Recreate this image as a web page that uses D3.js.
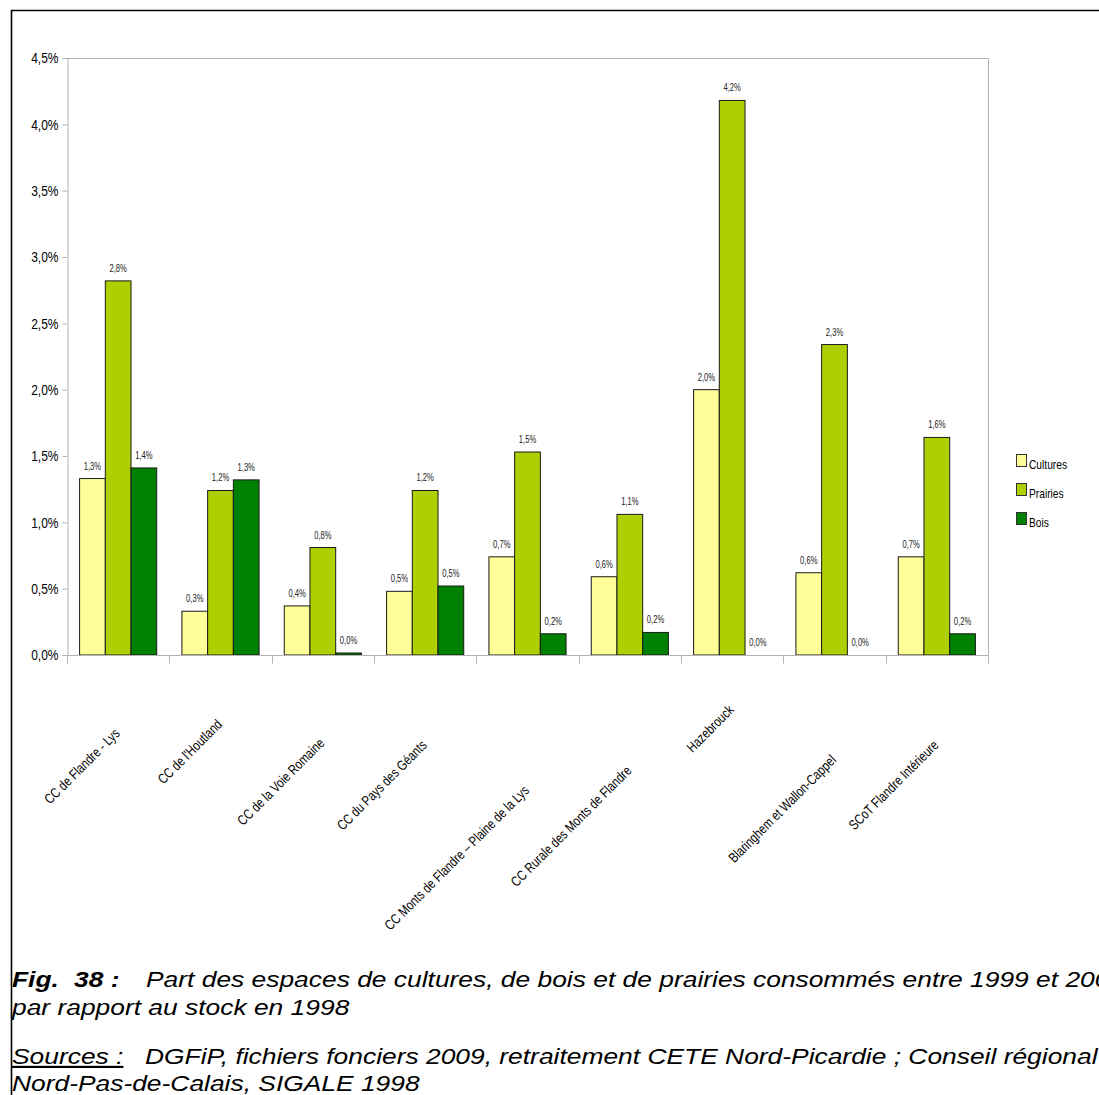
<!DOCTYPE html>
<html>
<head>
<meta charset="utf-8">
<script src="https://cdn.jsdelivr.net/npm/d3@7"></script>
<style>
  html, body { margin: 0; padding: 0; background: #fff; }
  svg { display: block; }
</style>
</head>
<body>
<svg id="chart" width="1099" height="1095"></svg>
<script>
// ---- Data ----
const categories = [
  "CC de Flandre - Lys",
  "CC de l'Houtland",
  "CC de la Voie Romaine",
  "CC du Pays des Géants",
  "CC Monts de Flandre – Plaine de la Lys",
  "CC Rurale des Monts de Flandre",
  "Hazebrouck",
  "Blaringhem et Wallon-Cappel",
  "SCoT Flandre Intérieure"
];
const seriesNames = ["Cultures", "Prairies", "Bois"];
const cultures = [1.33, 0.33, 0.37, 0.48, 0.74, 0.59, 2.00, 0.62, 0.74];
const prairies = [2.82, 1.24, 0.81, 1.24, 1.53, 1.06, 4.18, 2.34, 1.64];
const bois     = [1.41, 1.32, 0.015, 0.52, 0.16, 0.17, 0, 0, 0.16];
const yTicks = [0, 0.5, 1, 1.5, 2, 2.5, 3, 3.5, 4, 4.5];
const seriesColors = ["#ffff99", "#afd000", "#008000"];
const captionFig = "Fig.";
const captionNum = "38 :";
const captionLine1 = "Part des espaces de cultures, de bois et de prairies consommés entre 1999 et 2009";
const captionLine2 = "par rapport au stock en 1998";
const sourcesLabel = "Sources :";
const sourcesLine1 = "DGFiP, fichiers fonciers 2009, retraitement CETE Nord-Picardie ; Conseil régional";
const sourcesLine2 = "Nord-Pas-de-Calais, SIGALE 1998";

const seriesValues = [cultures, prairies, bois];

// ---- Layout ----
const svg = d3.select("#chart");
const plot = { left: 67, right: 988, top: 58, bottom: 655 };
const sans = "'Liberation Sans', Arial, sans-serif";
const NARROW = 0.8;

// emulate a narrow font by compressing glyphs horizontally
function condense(sel, factor) {
  sel.each(function () {
    const L = this.getComputedTextLength();
    d3.select(this).attr("textLength", L * factor).attr("lengthAdjust", "spacingAndGlyphs");
  });
}

const fr = d3.formatLocale({ decimal: ",", thousands: " ", grouping: [3], currency: ["", " €"] });
const fmt = v => fr.format(".1f")(v) + "%";

svg.append("rect").attr("width", 1099).attr("height", 1095).attr("fill", "#fff");

// outer frame (top and left visible)
svg.append("path")
  .attr("d", "M11.5,1095 V10.5 H1099")
  .attr("fill", "none").attr("stroke", "#000").attr("stroke-width", 1.6);

const y = d3.scaleLinear().domain([0, 4.5]).range([plot.bottom, plot.top]);
const x0 = d3.scaleBand().domain(categories).range([plot.left, plot.right]).paddingInner(0).paddingOuter(0);
const x1 = d3.scaleBand().domain(seriesNames).range([0, x0.bandwidth()]).paddingInner(0).paddingOuter(0.49);

// plot area border (top & right)
svg.append("path")
  .attr("d", `M${plot.left},${plot.top + 0.5} H${plot.right + 0.5} V${plot.bottom}`)
  .attr("fill", "none").attr("stroke", "#b3b3b3").attr("stroke-width", 1);

// Y axis
const yAxis = svg.append("g").attr("transform", `translate(${plot.left + 0.5},0)`)
  .call(d3.axisLeft(y).tickValues(yTicks).tickFormat(fmt).tickSize(5).tickPadding(4));
yAxis.select(".domain").attr("stroke", "#b3b3b3");
yAxis.selectAll(".tick line").attr("stroke", "#b3b3b3");
yAxis.selectAll(".tick text").attr("font-family", sans).attr("font-size", 15).attr("fill", "#000");
condense(yAxis.selectAll(".tick text"), NARROW);

// bars
const groups = svg.append("g").selectAll("g")
  .data(categories)
  .join("g")
  .attr("transform", d => `translate(${x0(d)},0)`);

groups.each(function (cat, ci) {
  const g = d3.select(this);
  seriesNames.forEach((s, si) => {
    const v = seriesValues[si][ci];
    const h = plot.bottom - y(v);
    if (h > 0) {
      g.append("rect")
        .attr("x", x1(s)).attr("y", y(v))
        .attr("width", x1.bandwidth()).attr("height", h)
        .attr("fill", seriesColors[si])
        .attr("stroke", "#1a1a1a").attr("stroke-width", 1);
    }
    g.append("text").attr("class", "vlab")
      .attr("x", x1(s) + x1.bandwidth() / 2)
      .attr("y", y(v) - 9)
      .attr("text-anchor", "middle")
      .attr("font-family", sans).attr("font-size", 10)
      .attr("fill", "#222")
      .text(fmt(v));
  });
});
condense(svg.selectAll("text.vlab"), 0.76);

// X axis
const xAxis = svg.append("g").attr("transform", `translate(0,${plot.bottom + 0.5})`);
xAxis.append("line").attr("x1", plot.left).attr("x2", plot.right + 0.5).attr("stroke", "#b3b3b3");
const boundaries = categories.map(c => x0(c)).concat([plot.right]);
xAxis.selectAll("line.tk").data(boundaries).join("line").attr("class", "tk")
  .attr("x1", d => Math.round(d) + 0.5).attr("x2", d => Math.round(d) + 0.5)
  .attr("y1", 0).attr("y2", 8).attr("stroke", "#b3b3b3");

// rotated category labels
const labels = svg.append("g").selectAll("text")
  .data(categories)
  .join("text")
  .attr("font-family", sans).attr("font-size", 14)
  .attr("text-anchor", "end").attr("fill", "#000")
  .text(d => d);
condense(labels, NARROW);
labels.each(function (d) {
  const L = +this.getAttribute("textLength");
  const cx = x0(d) + x0.bandwidth() / 2 + 2.5;
  const cy = 676 + 0.584 * L;
  d3.select(this).attr("transform", `translate(${cx},${cy}) rotate(-45)`);
});

// legend
const legend = svg.append("g");
seriesNames.forEach((s, i) => {
  const ly = 454 + i * 29;
  legend.append("rect").attr("x", 1016.5).attr("y", ly + 0.5).attr("width", 10).attr("height", 12)
    .attr("fill", seriesColors[i]).attr("stroke", "#333").attr("stroke-width", 1);
  legend.append("text").attr("class", "leg").attr("x", 1029).attr("y", ly + 15)
    .attr("font-family", sans).attr("font-size", 13).attr("fill", "#000").text(s);
});
condense(legend.selectAll("text.leg"), 0.785);

// caption (stretched horizontally like the reference)
const cap = svg.append("g").attr("font-family", sans).attr("font-size", 22)
  .attr("font-style", "italic").attr("fill", "#000");
function capText(x, yy, txt, opts = {}) {
  const t = cap.append("text").attr("transform", `translate(${x},${yy}) scale(1.2,1)`).text(txt);
  if (opts.bold) t.attr("font-weight", "bold");
  if (opts.underline) t.attr("text-decoration", "underline");
  return t;
}
capText(12, 987, captionFig, { bold: true });
capText(74, 987, captionNum, { bold: true });
capText(146, 987, captionLine1);
capText(12, 1015, captionLine2);
capText(12, 1064, sourcesLabel, { underline: true });
capText(145, 1064, sourcesLine1);
capText(12, 1091, sourcesLine2);
</script>
</body>
</html>
